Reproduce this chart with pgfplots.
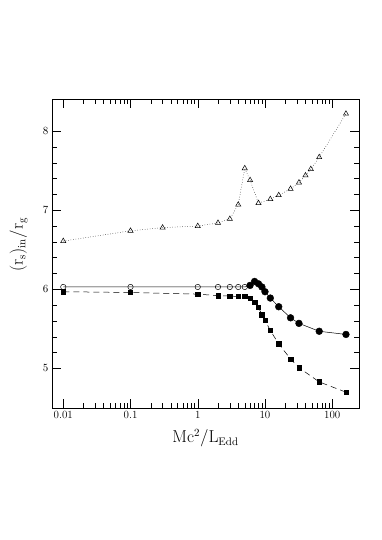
\documentclass[border=0pt]{standalone}
\usepackage{pgfplots}
\pgfplotsset{compat=1.18}

\begin{document}
\begin{tikzpicture}[x=1pt,y=1pt]
\useasboundingbox (0,0) rectangle (382,540);
\begin{axis}[
  at={(52pt,132pt)}, anchor=south west,
  scale only axis,
  width=307pt, height=308.5pt,
  xmode=log,
  xmin=0.0068, xmax=250,
  ymin=4.5, ymax=8.4,
  xtick={0.01,0.1,1,10,100},
  xticklabels={0.01,0.1,1,10,100},
  ytick={5,6,7,8},
  minor y tick num=4,
  tick align=inside,
  tick pos=both,
  major tick length=9pt,
  minor tick length=5pt,
  every tick/.style={black, line width=0.5pt},
  axis line style={line width=0.6pt},
  tick label style={font=\fontsize{11}{13}\selectfont},
  xlabel={$\mathrm{Mc^2/L_{Edd}}$},
  ylabel={$\mathrm{(r_s)_{in}/r_g}$},
  label style={font=\fontsize{16}{18}\selectfont},
  xlabel style={at={(axis description cs:0.5,0)}, anchor=north, yshift=-18pt},
  ylabel style={at={(axis description cs:0,0.53)}, anchor=south, yshift=21pt},
  clip=false,
]
% triangles, dotted
\addplot[black, line width=0.5pt, dotted,
  mark=triangle, mark size=3pt,
  mark options={solid, fill=white, line width=0.5pt}]
  coordinates {
  (0.01,6.61) (0.1,6.74) (0.3,6.78) (1,6.80) (2,6.84) (3,6.89)
  (4,7.07) (5,7.53) (6,7.38) (8,7.09) (12,7.14) (16,7.19)
  (24,7.27) (32,7.35) (40,7.44) (48,7.52) (64,7.67) (160,8.22)};
% circles, solid line
\addplot[black, line width=0.5pt, mark=none]
  coordinates {
  (0.01,6.03) (0.1,6.03) (1,6.03) (2,6.03) (3,6.03) (4,6.03) (5,6.03)
  (6,6.05) (7,6.10) (8,6.07) (9,6.03) (10,5.97) (12,5.89) (16,5.78)
  (24,5.64) (32,5.57) (64,5.47) (160,5.43)};
\addplot[only marks, mark=o, mark size=2.7pt,
  mark options={black, fill=white, line width=0.5pt}]
  coordinates {
  (0.01,6.03) (0.1,6.03) (1,6.03) (2,6.03) (3,6.03) (4,6.03) (5,6.03)};
\addplot[only marks, mark=*, mark size=3.4pt, mark options={black}]
  coordinates {
  (6,6.05) (7,6.10) (8,6.07) (9,6.03) (10,5.97) (12,5.89) (16,5.78)
  (24,5.64) (32,5.57) (64,5.47) (160,5.43)};
% squares, dashed
\addplot[black, line width=0.5pt, dash pattern=on 6pt off 4pt,
  mark=square*, mark size=2.2pt, mark options={solid, black}]
  coordinates {
  (0.01,5.97) (0.1,5.96) (1,5.94) (2,5.92) (3,5.915) (4,5.91) (5,5.91)
  (6,5.89) (7,5.84) (8,5.77) (9,5.68) (10,5.61) (12,5.48) (16,5.31)
  (24,5.12) (32,5.01) (64,4.83) (160,4.70)};
\end{axis}
\end{tikzpicture}
\end{document}
